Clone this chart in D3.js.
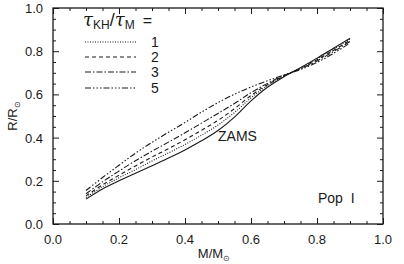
<!DOCTYPE html>
<html>
<head>
<meta charset="utf-8">
<script src="https://cdn.jsdelivr.net/npm/d3@7"></script>
<style>
    body { margin: 0; background: #fff; }
    svg { display: block; font-family: "Liberation Sans", Arial, sans-serif; }
</style>
</head>
<body>
<svg id="chart" width="404" height="264"></svg>
<script>
// masses (M/Msun) where the curves were read
var masses = [0.1, 0.15, 0.2, 0.25, 0.3, 0.35, 0.4, 0.45, 0.5, 0.55, 0.6, 0.65, 0.7, 0.75, 0.8, 0.85, 0.9];
// radii (R/Rsun)
var zams   = [0.115, 0.162, 0.200, 0.235, 0.270, 0.305, 0.343, 0.385, 0.433, 0.495, 0.570, 0.633, 0.682, 0.724, 0.768, 0.814, 0.860];
var ratio1 = [0.123, 0.172, 0.214, 0.252, 0.292, 0.329, 0.368, 0.411, 0.458, 0.516, 0.584, 0.640, 0.684, 0.722, 0.764, 0.809, 0.856];
var ratio2 = [0.130, 0.181, 0.226, 0.269, 0.310, 0.349, 0.390, 0.434, 0.480, 0.534, 0.595, 0.645, 0.686, 0.720, 0.760, 0.804, 0.851];
var ratio3 = [0.140, 0.195, 0.245, 0.293, 0.337, 0.379, 0.422, 0.467, 0.512, 0.558, 0.608, 0.651, 0.688, 0.718, 0.755, 0.798, 0.845];
var ratio5 = [0.155, 0.215, 0.272, 0.328, 0.378, 0.425, 0.470, 0.518, 0.562, 0.601, 0.634, 0.663, 0.690, 0.715, 0.748, 0.790, 0.838];
var xTicks = [0.0, 0.2, 0.4, 0.6, 0.8, 1.0];
var yTicks = [0.0, 0.2, 0.4, 0.6, 0.8, 1.0];
var legendLabels = ["1", "2", "3", "5"];

var margin = { left: 53, top: 8, right: 21, bottom: 40 };
var width = 404 - margin.left - margin.right, height = 264 - margin.top - margin.bottom;
var ink = "#1a1a1a";

var svg = d3.select("#chart");
var g = svg.append("g").attr("transform", "translate(" + margin.left + "," + margin.top + ")");

var x = d3.scaleLinear().domain([0, 1]).range([0, width]);
var y = d3.scaleLinear().domain([0, 1]).range([height, 0]);

// frame + inward ticks on all four sides (major every 0.2, minor every 0.05)
var minor = d3.range(0, 1.0001, 0.05);
function isMajor(d) { return Math.abs(d * 5 - Math.round(d * 5)) < 1e-6; }
function tickAxis(axisFn, scale, sign, tr) {
    var horiz = axisFn === d3.axisBottom || axisFn === d3.axisTop;
    var a = axisFn(scale).tickValues(minor).tickSizeOuter(0).tickFormat("");
    var sel = g.append("g").attr("transform", tr).call(a);
    sel.select(".domain").remove();
    sel.selectAll("line").attr("stroke", ink).attr("stroke-width", 1)
        .attr(horiz ? "y2" : "x2", function (d) { return sign * (isMajor(d) ? 6 : 3); });
}
tickAxis(d3.axisBottom, x, -1, "translate(0," + height + ")");
tickAxis(d3.axisTop, x, 1, "translate(0,0)");
tickAxis(d3.axisLeft, y, 1, "translate(0,0)");
tickAxis(d3.axisRight, y, -1, "translate(" + width + ",0)");

g.append("rect").attr("width", width).attr("height", height)
    .attr("fill", "none").attr("stroke", ink).attr("stroke-width", 1.3);

// tick labels
g.selectAll(".xl").data(xTicks).enter().append("text")
    .attr("x", function (d) { return x(d); }).attr("y", height + 20)
    .attr("text-anchor", "middle").attr("font-size", 13).attr("fill", ink)
    .text(function (d) { return d.toFixed(1); });
g.selectAll(".yl").data(yTicks).enter().append("text")
    .attr("x", -10).attr("y", function (d) { return y(d) + 5; })
    .attr("text-anchor", "end").attr("font-size", 13).attr("fill", ink)
    .text(function (d) { return d.toFixed(1); });

// axis titles
var xt = svg.append("text").attr("x", margin.left + width / 2 - 4).attr("y", 258)
    .attr("text-anchor", "middle").attr("font-size", 13).attr("fill", ink);
xt.append("tspan").text("M/M");
xt.append("tspan").attr("font-size", 8).attr("dy", 3).text("⊙");
var yt = svg.append("text").attr("transform", "translate(17," + (margin.top + height / 2) + ") rotate(-90)")
    .attr("text-anchor", "middle").attr("font-size", 13).attr("fill", ink);
yt.append("tspan").text("R/R");
yt.append("tspan").attr("font-size", 8).attr("dy", 3).text("⊙");

// curves
var series = [
    { values: zams, dash: null },
    { values: ratio1, dash: "1,1.5" },
    { values: ratio2, dash: "4,3" },
    { values: ratio3, dash: "6,2,1.5,2" },
    { values: ratio5, dash: "6,2,1.5,2,1.5,2,1.5,2" }
];
var line = d3.line()
    .x(function (d) { return x(d[0]); })
    .y(function (d) { return y(d[1]); })
    .curve(d3.curveCatmullRom.alpha(0.5));

g.selectAll(".curve").data(series).enter().append("path")
    .attr("class", "curve")
    .attr("d", function (s) { return line(d3.zip(masses, s.values)); })
    .attr("fill", "none").attr("stroke", ink).attr("stroke-width", 1.1)
    .attr("stroke-dasharray", function (s) { return s.dash; });

// legend
var lt = svg.append("text").attr("x", 83).attr("y", 26).attr("fill", ink).attr("font-size", 18);
lt.append("tspan").attr("font-style", "italic").attr("font-family", "DejaVu Serif, serif").text("τ");
lt.append("tspan").attr("font-size", 12).attr("dy", 3).text("KH");
lt.append("tspan").attr("dy", -3).attr("font-size", 18).text("/");
lt.append("tspan").attr("font-style", "italic").attr("font-family", "DejaVu Serif, serif").text("τ");
lt.append("tspan").attr("font-size", 12).attr("dy", 3).text("M");
lt.append("tspan").attr("dy", -3).attr("font-size", 16).attr("dx", 8).text("=");

var legendY = [42, 57, 72, 88];
var leg = svg.selectAll(".leg").data(series.slice(1)).enter().append("g");
leg.append("line")
    .attr("x1", 85).attr("x2", 136)
    .attr("y1", function (d, i) { return legendY[i]; }).attr("y2", function (d, i) { return legendY[i]; })
    .attr("stroke", ink).attr("stroke-width", 1.1)
    .attr("stroke-dasharray", function (d) { return d.dash; });
leg.append("text")
    .attr("x", 155).attr("y", function (d, i) { return legendY[i] + 5; })
    .attr("text-anchor", "middle").attr("font-size", 14).attr("fill", ink)
    .text(function (d, i) { return legendLabels[i]; });

// annotations
svg.append("text").attr("x", 218).attr("y", 141).attr("font-size", 14).attr("fill", ink).text("ZAMS");
svg.append("text").attr("x", 318).attr("y", 203).attr("font-size", 14).attr("fill", ink)
    .attr("xml:space", "preserve").style("white-space", "pre").text("Pop  I");
</script>
</body>
</html>
